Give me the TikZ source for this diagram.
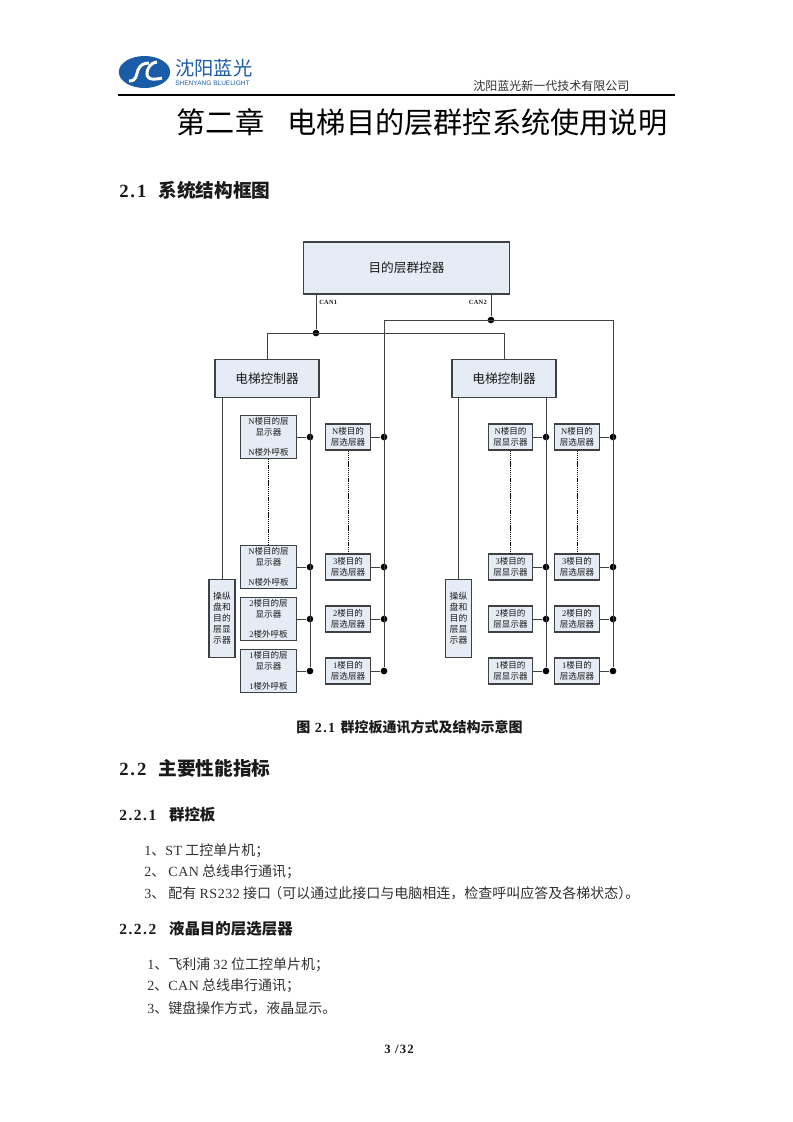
\documentclass[tikz,border=0pt]{standalone}
\usepackage{fontspec}
\setmainfont{Noto Sans CJK SC}
\newfontfamily\lat[LetterSpace=4]{Liberation Serif}
\newfontfamily\latwide[LetterSpace=10]{Liberation Serif}
\newfontfamily\latsans{Liberation Sans}
\usetikzlibrary{positioning,calc,shapes.geometric}
\definecolor{panelblue}{HTML}{E6ECF6}
\definecolor{panelink}{HTML}{404040}
\definecolor{logoblue}{HTML}{1B5CA8}
\definecolor{pageink}{HTML}{1A1A1A}
\definecolor{bodyink}{HTML}{303030}
\newcommand{\zhsemi}{\char"FF1B\relax}
\newcommand{\zhcomma}{\char"FF0C\relax}
\newcommand{\zhopen}{\char"FF08\relax}
\newcommand{\zhclose}{\char"FF09\relax}

\begin{document}
\begin{tikzpicture}[
  x=0.75pt, y=-0.75pt,
  panel/.style={draw=panelink, line width=0.8pt, fill=panelblue, align=center, text=pageink, inner sep=0pt},
  master/.style={panel, minimum width=155pt, minimum height=39pt, font=\fontsize{9.5}{11}\selectfont},
  ctrlbox/.style={panel, minimum width=78pt, minimum height=29pt, font=\fontsize{9.5}{11}\selectfont},
  opbox/.style={panel, minimum width=19.5pt, minimum height=59pt, font=\fontsize{6.6}{8.2}\selectfont},
  callbox/.style={panel, minimum width=42.5pt, minimum height=32pt, font=\fontsize{6.4}{8.2}\selectfont},
  floorbox/.style={panel, minimum width=33.5pt, minimum height=19.5pt, font=\fontsize{6.4}{8.2}\selectfont},
  link/.style={draw=panelink, line width=0.7pt},
  thin link/.style={draw=black, line width=0.6pt, dash pattern=on 1pt off 0.6pt},
  dot/.style={circle, fill=black, inner sep=0pt, minimum size=5pt},
  buslab/.style={font=\lat\bfseries\fontsize{4.8}{5}\selectfont, text=pageink},
  chapter/.style={anchor=west, font=\fontsize{21.9}{24}\selectfont, text=black},
  heada/.style={anchor=west, font=\bfseries\fontsize{14}{16}\selectfont, text=pageink},
  headb/.style={anchor=west, font=\bfseries\fontsize{11.6}{13}\selectfont, text=pageink},
  body/.style={anchor=west, font=\fontsize{10.5}{12}\selectfont, text=bodyink}]
\useasboundingbox (0,0) rectangle (793,1122);
% letterhead
\node[ellipse, fill=logoblue, minimum width=38.5pt, minimum height=24pt, inner sep=0pt] (logo) at (144.5,72) {};
\draw[white, line width=2.2pt] (129,81) .. controls (137,81) and (136,75) .. (138,70) .. controls (140,65) and (144,63) .. (149,63);
\draw[white, line width=2.2pt] (157,62) .. controls (150,63) and (148,68) .. (147,72) .. controls (146,78) and (150,81) .. (162,78);
\node[anchor=west, text=logoblue, font=\fontsize{14.5}{16}\selectfont, inner xsep=0pt] (logozh) at (175,68) {沈阳蓝光};
\node[anchor=west, text=logoblue, font=\latsans\fontsize{4.9}{6}\selectfont, inner xsep=0pt] (logoen) at (175,83.5) {SHENYANG BLUELIGHT};
\node[anchor=west, text=bodyink, font=\fontsize{9}{10}\selectfont, inner xsep=0pt] (company) at (473,86) {沈阳蓝光新一代技术有限公司};
\coordinate (ruleL) at (118,95);
\coordinate (ruleR) at (675,95);
\draw[black, line width=0.8pt] (ruleL) -- (ruleR);
\node[chapter, inner xsep=0pt] (title) at (176.5,122) {第二章\hspace{17.5pt}电梯目的层群控系统使用说明};
\node[heada, inner xsep=0pt] (secone) at (119,190) {{\latwide\bfseries 2.1}\hspace{9pt}系统结构框图};
% top of the diagram
\node[master] (group) at (406.5,268) {目的层群控器};
\node[ctrlbox] (ctrlL) at (267,378.5) {电梯控制器};
\node[ctrlbox] (ctrlR) at (504,378.5) {电梯控制器};
\node[opbox] (opL) at (222,618.5) {操纵\\盘和\\目的\\层显\\示器};
\node[opbox] (opR) at (458.5,618.5) {操纵\\盘和\\目的\\层显\\示器};
\node[dot] (can1) at (316,333) {};
\node[dot] (can2) at (491,320) {};
\node[buslab, anchor=west, inner xsep=0pt] at (319,302) (can1lab) {CAN1};
\node[buslab, anchor=east, inner xsep=0pt] at (487,302) (can2lab) {CAN2};
% floors, left elevator
\foreach \nm/\lab/\py in {t/N/437, n/N/567, b/2/619, a/1/671}{
  \node[callbox] (callL\nm) at (268.5,\py) {{\lat\lab}楼目的层\\显示器\\[7pt]{\lat\lab}楼外呼板};
  \node[dot] (dotL\nm) at (310,\py) {};
  \draw[link] (callL\nm) -- (dotL\nm);
}
\foreach \nm/\lab/\py in {t/N/437, n/3/567, b/2/619, a/1/671}{
  \node[floorbox] (selL\nm) at (348,\py) {{\lat\lab}楼目的\\层选层器};
  \node[dot] (dotS\nm) at (384,\py) {};
  \draw[link] (selL\nm) -- (dotS\nm);
  % floors, right elevator
  \node[floorbox] (dispR\nm) at (510.5,\py) {{\lat\lab}楼目的\\层显示器};
  \node[dot] (dotR\nm) at (546,\py) {};
  \draw[link] (dispR\nm) -- (dotR\nm);
  \node[floorbox] (selR\nm) at (577,\py) {{\lat\lab}楼目的\\层选层器};
  \node[dot] (dotT\nm) at (613,\py) {};
  \draw[link] (selR\nm) -- (dotT\nm);
}
% links
\draw[link] (group.south -| can1) -- (can1);
\draw[link] (group.south -| can2) -- (can2);
\draw[link] (ctrlL.north) -- (ctrlL.north |- can1) -- (ctrlR.north |- can1) -- (ctrlR.north);
\draw[link] (dotSa) -- (dotSa |- can2) -- (dotTa |- can2) -- (dotTa);
\draw[link] (opL.north |- ctrlL.south) -- (opL.north);
\draw[link] (opR.north |- ctrlR.south) -- (opR.north);
\draw[link] (dotLa |- ctrlL.south) -- (dotLa);
\draw[link] (dotRa |- ctrlR.south) -- (dotRa);
\draw[thin link] (callLt.south) -- (callLn.north);
\draw[thin link] (selLt.south) -- (selLn.north);
\draw[thin link] (dispRt.south) -- (dispRn.north);
\draw[thin link] (selRt.south) -- (selRn.north);
% text below the diagram
\node[anchor=west, inner xsep=0pt, font=\bfseries\fontsize{10.5}{12}\selectfont, text=pageink] (caption) at (296,727) {图\hspace{3.5pt}{\latwide\bfseries 2.1}\hspace{4pt}群控板通讯方式及结构示意图};
\node[heada, inner xsep=0pt] (sectwo) at (119,768) {{\latwide\bfseries 2.2}\hspace{9pt}主要性能指标};
\node[headb, inner xsep=0pt] (subone) at (119,815) {{\latwide\bfseries 2.2.1}\hspace{9.5pt}群控板};
\node[body, inner xsep=0pt] (lineA) at (144,851) {{\lat 1}、{\lat ST} 工控单片机\zhsemi};
\node[body, inner xsep=0pt] (lineB) at (144,872) {{\lat 2}、 {\lat CAN} 总线串行通讯\zhsemi};
\node[body, inner xsep=0pt] (lineC) at (144,893) {{\lat 3}、 配有 {\lat RS232} 接口\hspace{-2pt}\zhopen 可以通过此接口与电脑相连\zhcomma 检查呼叫应答及各梯状态\zhclose\hspace{-5.2pt}。};
\node[headb, inner xsep=0pt] (subtwo) at (119,929) {{\latwide\bfseries 2.2.2}\hspace{9.5pt}液晶目的层选层器};
\node[body, inner xsep=0pt] (lineD) at (147,965) {{\lat 1}、飞利浦 {\lat 32} 位工控单片机\zhsemi};
\node[body, inner xsep=0pt] (lineE) at (147,986) {{\lat 2}、{\lat CAN} 总线串行通讯\zhsemi};
\node[body, inner xsep=0pt] (lineF) at (147,1008) {{\lat 3}、键盘操作方式\zhcomma 液晶显示。};
\node[font=\latwide\bfseries\fontsize{9.5}{11}\selectfont, text=pageink] (pageno) at (399,1049) {3 /32};
\end{tikzpicture}
\end{document}
